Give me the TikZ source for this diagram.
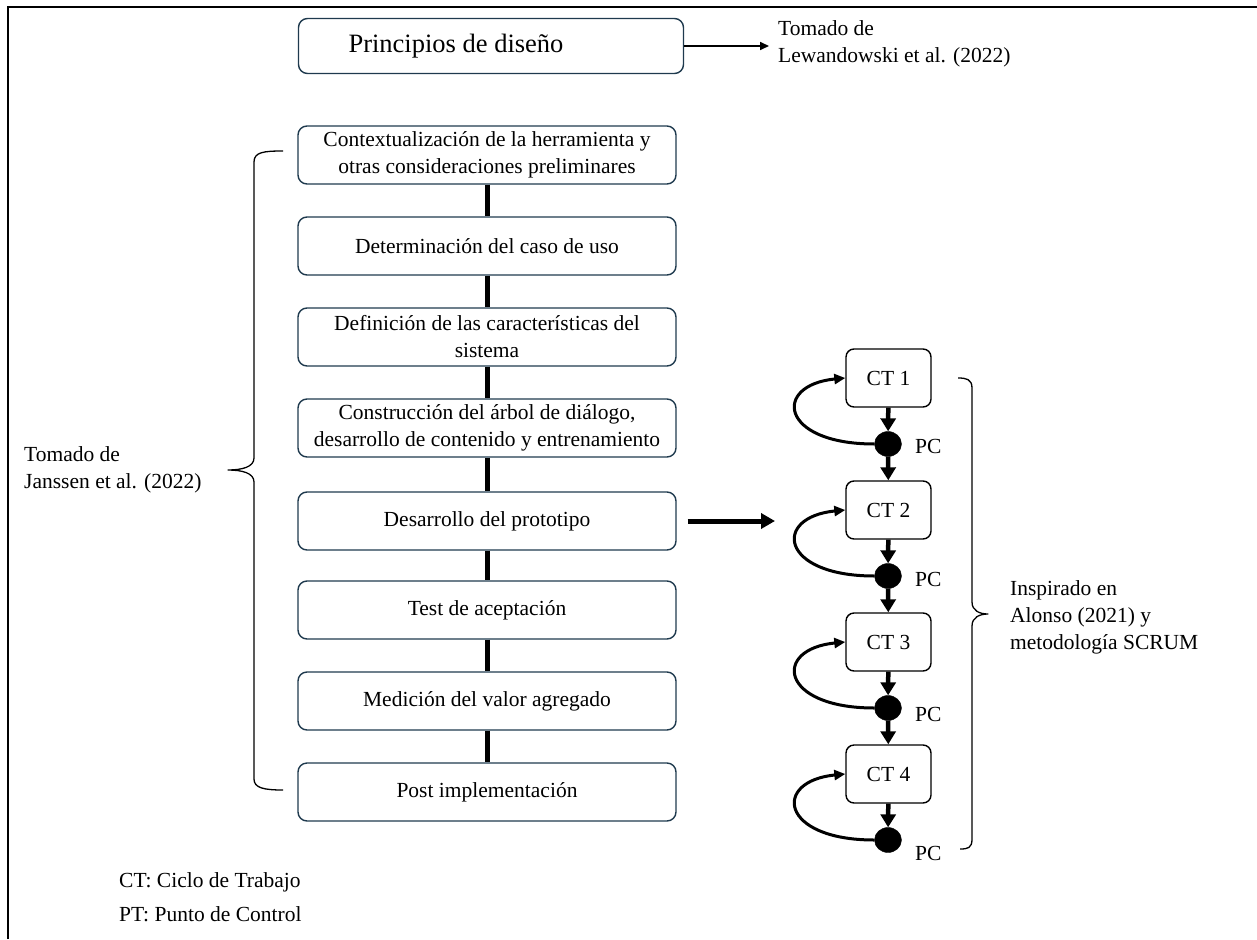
\documentclass[tikz,border=0pt]{standalone}
\usepackage{fontspec}
\setmainfont{Liberation Serif}
\usetikzlibrary{arrows.meta,shapes.geometric}
\definecolor{boxblue}{HTML}{1F3A4E}
\begin{document}
\begin{tikzpicture}[x=1pt,y=-1pt,
  txt/.style={font=\fontsize{21.5}{27}\selectfont, inner sep=0pt},
  stage/.style={txt, draw=boxblue, line width=1.4pt, rounded corners=9pt,
    minimum width=378pt, minimum height=58pt, align=center},
  titlebox/.style={stage, minimum width=385pt, minimum height=55pt,
    font=\fontsize{26.5}{30}\selectfont},
  cyc/.style={txt, draw=black, line width=1.4pt, rounded corners=8pt,
    minimum width=85pt, minimum height=58pt},
  pc/.style={ellipse, fill=black, draw=black, minimum width=27pt,
    minimum height=25pt, inner sep=0pt},
  note/.style={txt, align=left, anchor=west},
  link/.style={line width=5pt},
  flow/.style={line width=4.5pt, -{Triangle[length=13pt,width=15pt]}},
  pointer/.style={line width=1.6pt, -{Triangle[length=9pt,width=8pt]}},
  bigpointer/.style={line width=5pt, -{Triangle[length=14pt,width=15pt]}},
  retro/.style={line width=3pt, -{Triangle[length=11pt,width=10pt]}},
  brace/.style={line width=1.3pt, line join=round}
]
\useasboundingbox (0,0) rectangle (1257,939);

% frame lines (top and left only)
\draw[line width=2.6pt] (8,939) -- (8,7) -- (1257,7);

% title and its source
\node[titlebox] (title) at (491,46) {Principios de diseño\hspace*{70pt}};
\node[note] (src) at (778,44) {Tomado de\\Lewandowski et al. (2022)};
\draw[pointer] (title.east) -- ([xshift=-9pt]title.east -| src.west);

% main sequence of stages
\node[stage] (s1) at (487,155) {Contextualización de la herramienta y\\otras consideraciones preliminares};
\node[stage] (s2) at (487,246) {Determinación del caso de uso};
\node[stage] (s3) at (487,337) {Definición de las características del\\sistema};
\node[stage] (s4) at (487,428) {Construcción del árbol de diálogo,\\desarrollo de contenido y entrenamiento};
\node[stage] (s5) at (487,521) {Desarrollo del prototipo};
\node[stage] (s6) at (487,610) {Test de aceptación};
\node[stage] (s7) at (487,701) {Medición del valor agregado};
\node[stage] (s8) at (487,792) {Post implementación};
\foreach \a/\b in {s1/s2,s2/s3,s3/s4,s4/s5,s5/s6,s6/s7,s7/s8}
  \draw[link] (\a.south) -- (\b.north);

% left brace and its note
\draw[brace] (283,151) .. controls (264,151) and (254,152) .. (254,162)
  -- (254,458) .. controls (254,467) and (242,470) .. (228,470)
  .. controls (242,470) and (254,473) .. (254,482)
  -- (254,779) .. controls (254,788) and (264,790) .. (283,790);
\node[note] (janssen) at (24,470) {Tomado de\\Janssen et al. (2022)};

% work cycles with checkpoints
\node[cyc] (ct1) at (888.5,378) {CT 1};
\node[cyc] (ct2) at (888.5,510) {CT 2};
\node[cyc] (ct3) at (888.5,642) {CT 3};
\node[cyc] (ct4) at (888.5,774) {CT 4};
\node[pc] (pc1) at (888,444) {};
\node[pc] (pc2) at (888,576) {};
\node[pc] (pc3) at (888,708) {};
\node[pc] (pc4) at (888,840) {};
\node[note] (pcl1) at (915,446) {PC};
\node[note] (pcl2) at (915,579) {PC};
\node[note] (pcl3) at (915,714) {PC};
\node[note] (pcl4) at (915,853) {PC};
\foreach \i in {1,2,3,4}{
  \draw[flow] (ct\i) -- (pc\i);
  \draw[retro] (pc\i.west) .. controls +(-95,0) and +(-73,7) .. (ct\i.west);
}
\foreach \a/\b in {pc1/ct2,pc2/ct3,pc3/ct4}
  \draw[flow] (\a) -- (\b);

% arrow from the prototype stage to the cycles
\coordinate (cycin) at (775,521);
\draw[bigpointer] ([xshift=11pt]s5.east) -- (cycin);

% right brace and its note
\draw[brace] (958,378) .. controls (966,378) and (972,379) .. (972,388)
  -- (972,602) .. controls (972,611) and (980,614) .. (988,614)
  .. controls (980,614) and (972,617) .. (972,626)
  -- (972,839) .. controls (972,848) and (968,849) .. (960,849);
\node[note] (scrum) at (1010,617) {Inspirado en\\Alonso (2021) y\\metodología SCRUM};

% legend
\node[note] (leg1) at (119,882) {CT: Ciclo de Trabajo};
\node[note] (leg2) at (119,914) {PT: Punto de Control};
\end{tikzpicture}
\end{document}
